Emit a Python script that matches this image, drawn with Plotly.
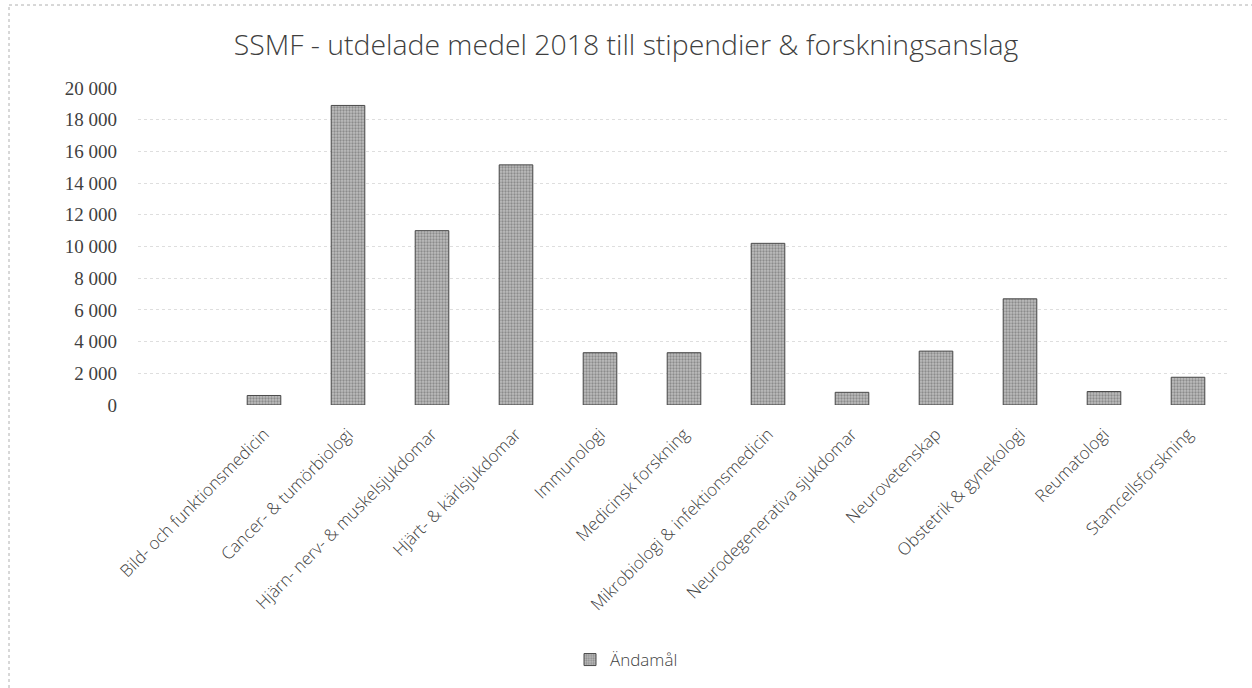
import plotly.graph_objects as go

categories = [
    "Bild- och funktionsmedicin",
    "Cancer- & tumörbiologi",
    "Hjärn- nerv- & muskelsjukdomar",
    "Hjärt- & kärlsjukdomar",
    "Immunologi",
    "Medicinsk forskning",
    "Mikrobiologi & infektionsmedicin",
    "Neurodegenerativa sjukdomar",
    "Neurovetenskap",
    "Obstetrik & gynekologi",
    "Reumatologi",
    "Stamcellsforskning",
]
values = [600, 18900, 11000, 15150, 3300, 3300, 10200, 800, 3400, 6700, 850, 1750]
series_name = "Ändamål"
title_text = "SSMF - utdelade medel 2018 till stipendier & forskningsanslag"

W, H = 1252, 688
L, R, T, B = 138, 22, 88, 283
pw, ph = W - L - R, H - T - B

FONT = "Open Sans, sans-serif"
TXT = "#3f3f3f"

fig = go.Figure()
fig.add_trace(go.Bar(
    x=categories, y=values, name=series_name,
    marker=dict(
        color="#9c9c9c",
        line=dict(color="#4a4a4a", width=1),
        pattern=dict(shape=".", fgcolor="#5a5a5a", bgcolor="#bdbdbd", size=3, solidity=0.45),
    ),
    showlegend=True,
))

def px_x(x):
    return (x - L) / pw

def px_y(y):
    return (H - B - y) / ph

border = dict(color="#b0b0b0", width=1, dash="dot")

fig.update_layout(
    width=W, height=H,
    margin=dict(l=L, r=R, t=T, b=B),
    paper_bgcolor="white", plot_bgcolor="white",
    separators=", ",
    title=dict(text=title_text, x=0.5, xanchor="center", y=1 - 45 / H, yanchor="middle",
               font=dict(family=FONT, size=28.4, color=TXT, weight=300)),
    bargap=0.6,
    xaxis=dict(range=[-1.5, 11.5], tickangle=-45, showgrid=False, showline=False, ticks="",
               ticklabelstandoff=15,
               tickfont=dict(family=FONT, size=17, color=TXT, weight=300)),
    yaxis=dict(range=[0, 20000], dtick=2000, tickformat=",d", showgrid=True,
               gridcolor="#dedede", griddash="dot", gridwidth=1, zeroline=False,
               showline=False, ticks="", ticklabelstandoff=20,
               tickfont=dict(family="Liberation Serif, serif", size=19, color=TXT)),
    legend=dict(orientation="h", x=px_x(570), xanchor="left", yref="container", y=1 - 660 / H,
                yanchor="middle", font=dict(family=FONT, size=17, color=TXT, weight=300),
                itemwidth=30),
    shapes=[
        dict(type="line", xref="paper", yref="paper",
             x0=px_x(9), x1=px_x(9), y0=px_y(688), y1=px_y(5), line=border),
        dict(type="line", xref="paper", yref="paper",
             x0=px_x(9), x1=px_x(1252), y0=px_y(5), y1=px_y(5), line=border),
    ],
)

fig.write_html("out.html", config={"displayModeBar": False},
               post_script="document.body.style.margin='0px';document.body.style.overflow='hidden';")
